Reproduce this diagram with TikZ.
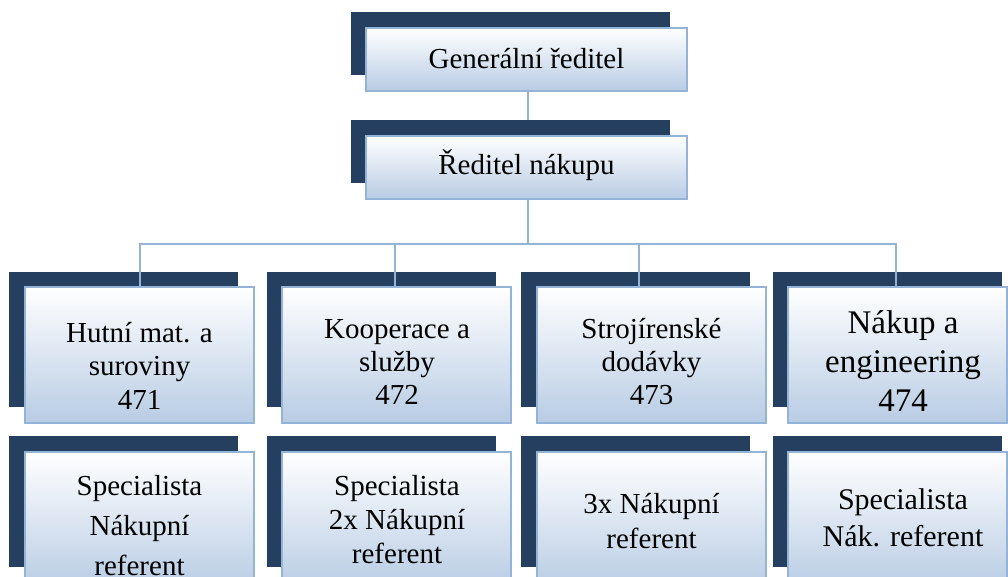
\documentclass[tikz,border=0pt]{standalone}
\usepackage{fontspec}
\setmainfont{LiberationSerif}[Extension=.ttf, UprightFont=*-Regular,
  BoldFont=*-Bold, ItalicFont=*-Italic, BoldItalicFont=*-BoldItalic]
\definecolor{navy}{RGB}{36,63,96}
\definecolor{edge}{RGB}{149,179,215}
\definecolor{paleblue}{RGB}{184,204,228}
% stacked, centred lines whose baseline is that of the first line
\newcommand\boxlines[1]{\begin{tabular}[t]{@{}c@{}}#1\end{tabular}}
\tikzset{
  backbox/.style={rectangle, fill=navy, inner sep=0pt, outer sep=0pt,
    anchor=north west, minimum width=#1},
  backbox/.default=229pt,
  facebox/.style={rectangle, draw=edge, line width=2.2pt, top color=white,
    bottom color=paleblue, inner sep=0pt, outer sep=0pt,
    anchor=north west, minimum width=#1},
  facebox/.default=229pt,
  label/.style={anchor=base, inner sep=0pt, text=black},
  link/.style={draw=edge, line width=2.8pt}
}
\begin{document}
\begin{tikzpicture}[x=1pt, y=-1pt]
\useasboundingbox (0,0) rectangle (1008,576);
\fill[white] (0,0) rectangle (1008,576);

% top of the hierarchy
\node[backbox=319pt, minimum height=63pt] (gd) at (351,12) {};
\node[facebox=321pt, minimum height=63pt] (g) at (366,28) {};
\node[label, font=\fontsize{29}{33}\selectfont] (gt) at (526.5,68) {Generální ředitel};

\node[backbox=319pt, minimum height=63pt] (rd) at (351,120) {};
\node[facebox=321pt, minimum height=63pt] (r) at (366,136) {};
\node[label, font=\fontsize{29}{33}\selectfont] (rt) at (526.5,174) {Ředitel nákupu};

% departments
\node[backbox, minimum height=135pt] (c1d) at (9,272) {};
\node[backbox, minimum height=135pt] (c2d) at (267,272) {};
\node[backbox, minimum height=135pt] (c3d) at (521,272) {};
\node[backbox, minimum height=135pt] (c4d) at (773,272) {};

% staff of each department
\node[backbox, minimum height=131pt] (s1d) at (9,436) {};
\node[backbox, minimum height=131pt] (s2d) at (267,436) {};
\node[backbox, minimum height=131pt] (s3d) at (521,436) {};
\node[backbox, minimum height=131pt] (s4d) at (773,436) {};

% connectors
\coordinate (bus) at (528,244);
\draw[link] ([xshift=1.5pt]g.south) -- ([xshift=1.5pt]g.south |- rd.north);
\draw[link] ([xshift=1.5pt]r.south) -- (bus);

\node[facebox, minimum height=136pt] (c1) at (25,287) {};
\node[facebox, minimum height=136pt] (c2) at (282,287) {};
\node[facebox, minimum height=136pt] (c3) at (537,287) {};
\node[facebox=219pt, minimum height=136pt] (c4) at (788,287) {};

\draw[link] ([xshift=0.5pt]c1.north) |- (bus) -| ([xshift=-1.5pt]c4.north);
\draw[link] ([xshift=-1.5pt]c2.north) -- ([xshift=-1.5pt]c2.north |- bus);
\draw[link] ([xshift=-12.5pt]c3.north) -- ([xshift=-12.5pt]c3.north |- bus);

\node[label, font=\fontsize{29}{33.5}\selectfont] (c1t) at (139.5,342)
  {\boxlines{Hutní mat. a\\suroviny\\471}};
\node[label, font=\fontsize{29}{33}\selectfont] (c2t) at (397,338)
  {\boxlines{Kooperace a\\služby\\472}};
\node[label, font=\fontsize{29}{33}\selectfont] (c3t) at (651.5,338)
  {\boxlines{Strojírenské\\dodávky\\473}};
\node[label, font=\fontsize{33}{39}\selectfont] (c4t) at (903,333)
  {\boxlines{Nákup a\\engineering\\474}};

\node[facebox, minimum height=136pt] (s1) at (25,452) {};
\node[facebox, minimum height=136pt] (s2) at (282,452) {};
\node[facebox, minimum height=136pt] (s3) at (537,452) {};
\node[facebox=219pt, minimum height=136pt] (s4) at (788,452) {};

\node[label, font=\fontsize{29}{40}\selectfont] (s1t) at (139.5,495)
  {\boxlines{Specialista\\Nákupní\\referent}};
\node[label, font=\fontsize{29}{34}\selectfont] (s2t) at (397,495)
  {\boxlines{Specialista\\2x Nákupní\\referent}};
\node[label, font=\fontsize{29}{35}\selectfont] (s3t) at (651.5,513)
  {\boxlines{3x Nákupní\\referent}};
\node[label, font=\fontsize{30}{37}\selectfont] (s4t) at (903,509)
  {\boxlines{Specialista\\Nák. referent}};
\end{tikzpicture}
\end{document}
